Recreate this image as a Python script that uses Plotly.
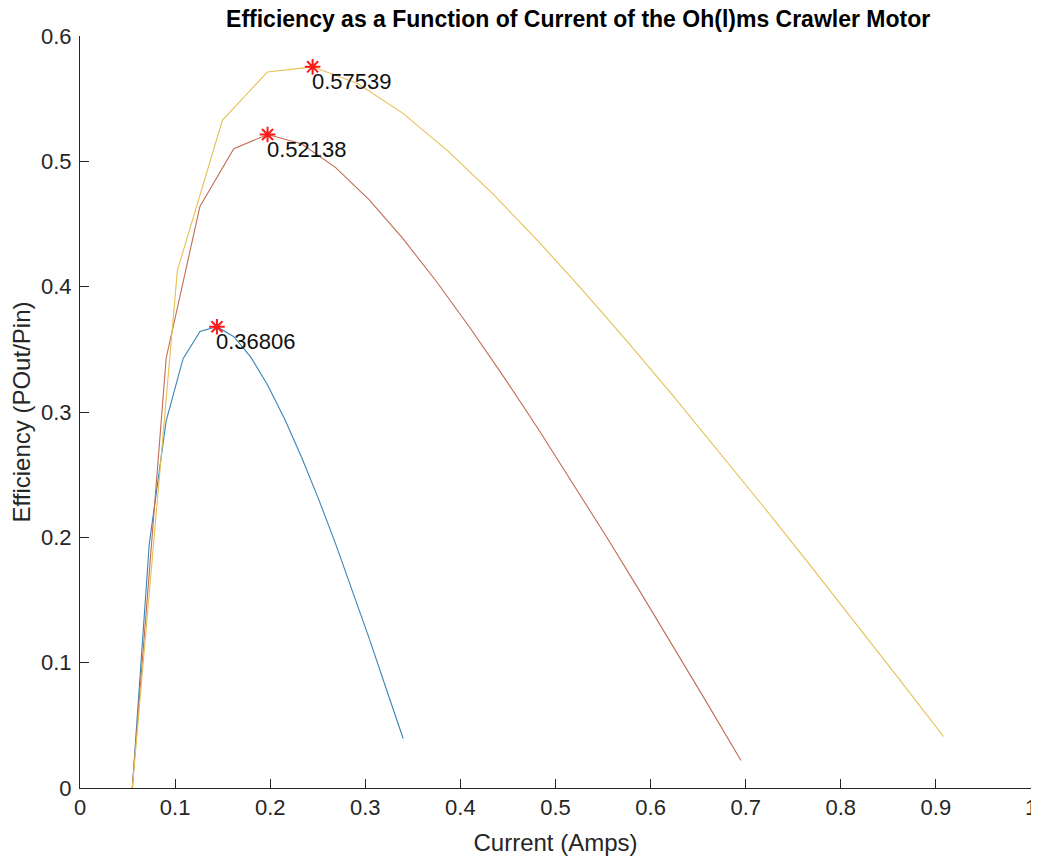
import plotly.graph_objects as go

# Current (A) and efficiency values
blue_current = [0.055, 0.0728, 0.0906, 0.1084, 0.1262, 0.144, 0.1618, 0.1796, 0.1974,
                0.2152, 0.233, 0.2508, 0.2686, 0.2864, 0.3042, 0.322, 0.3398]
blue_eff = [0.0, 0.1945, 0.2929, 0.3426, 0.3642, 0.36806, 0.3601, 0.3438, 0.3214,
            0.2944, 0.2639, 0.2307, 0.1952, 0.1580, 0.1192, 0.0792, 0.0395]

red_current = [0.055, 0.0906, 0.1261, 0.1617, 0.1972, 0.2328, 0.2683, 0.3039, 0.3394,
               0.375, 0.4106, 0.4461, 0.4817, 0.5172, 0.5528, 0.5883, 0.6239, 0.6594, 0.695]
red_eff = [0.0, 0.3429, 0.4640, 0.5100, 0.52138, 0.5140, 0.4954, 0.4695, 0.4385,
           0.4039, 0.3666, 0.3274, 0.2866, 0.2445, 0.2014, 0.1575, 0.1128, 0.0677, 0.0220]

yellow_current = [0.055, 0.1024, 0.1498, 0.1972, 0.2446, 0.2919, 0.3393, 0.3867, 0.4341,
                  0.4815, 0.5289, 0.5763, 0.6237, 0.671, 0.7184, 0.7658, 0.8132, 0.8606, 0.908]
yellow_eff = [0.0, 0.4130, 0.5329, 0.5713, 0.57539, 0.5621, 0.5385, 0.5084, 0.4740,
              0.4366, 0.3969, 0.3555, 0.3128, 0.2693, 0.2248, 0.1796, 0.1338, 0.0876, 0.0411]

peak_current = [0.144, 0.1972, 0.2446]
peak_eff = [0.36806, 0.52138, 0.57539]
peak_labels = ["0.36806", "0.52138", "0.57539"]

x_ticks = [0, 0.1, 0.2, 0.3, 0.4, 0.5, 0.6, 0.7, 0.8, 0.9, 1]
x_tick_text = ["0", "0.1", "0.2", "0.3", "0.4", "0.5", "0.6", "0.7", "0.8", "0.9", "1"]
y_ticks = [0, 0.1, 0.2, 0.3, 0.4, 0.5, 0.6]
y_tick_text = ["0", "0.1", "0.2", "0.3", "0.4", "0.5", "0.6"]

FONT = "Liberation Sans, Arial, Helvetica, sans-serif"
TXT = "#262626"

fig = go.Figure()
fig.add_trace(go.Scatter(x=blue_current, y=blue_eff, mode="lines",
                         line=dict(color="#3a84b6", width=1.1), showlegend=False))
fig.add_trace(go.Scatter(x=red_current, y=red_eff, mode="lines",
                         line=dict(color="#c26c52", width=1.1), showlegend=False))
fig.add_trace(go.Scatter(x=yellow_current, y=yellow_eff, mode="lines",
                         line=dict(color="#e6c053", width=1.1), showlegend=False))
fig.add_trace(go.Scatter(x=peak_current, y=peak_eff, mode="markers",
                         marker=dict(symbol="asterisk-open", size=13, color="#ff1a1a",
                                     line=dict(color="#ff1a1a", width=2)),
                         showlegend=False))

for xc, yc, lab in zip(peak_current, peak_eff, peak_labels):
    fig.add_annotation(x=xc, y=yc, text=lab, showarrow=False, xanchor="left",
                       yanchor="middle", yshift=-15, xshift=-3,
                       font=dict(family=FONT, size=22, color="#111111"))

fig.update_layout(
    width=1031, height=851,
    margin=dict(l=72, r=8, t=28, b=71, autoexpand=False),
    paper_bgcolor="white", plot_bgcolor="white",
    font=dict(family=FONT, color=TXT),
    title=dict(text="<b>Efficiency as a Function of Current of the Oh(l)ms Crawler Motor</b>",
               x=0.553, xanchor="center", y=1.0, yanchor="top", pad=dict(t=3, b=0),
               font=dict(family=FONT, size=23, color="#000000")),
)
fig.update_xaxes(range=[0, 1], tickvals=x_ticks, ticktext=x_tick_text,
                 showline=True, linecolor="#262626", linewidth=1, automargin=False,
                 ticks="inside", ticklen=9, tickcolor="#262626", showgrid=False,
                 zeroline=False, tickfont=dict(size=22, color=TXT),
                 title=dict(text="Current (Amps)", font=dict(size=24, color=TXT), standoff=14))
fig.update_yaxes(range=[0, 0.6], tickvals=y_ticks, ticktext=y_tick_text,
                 showline=True, linecolor="#262626", linewidth=1, automargin=False,
                 ticks="inside", ticklen=9, tickcolor="#262626", showgrid=False,
                 zeroline=False, tickfont=dict(size=22, color=TXT), ticklabelstandoff=3,
                 title=dict(text="Efficiency (POut/Pin)", font=dict(size=24, color=TXT), standoff=4))

fig.write_html("out.html")
